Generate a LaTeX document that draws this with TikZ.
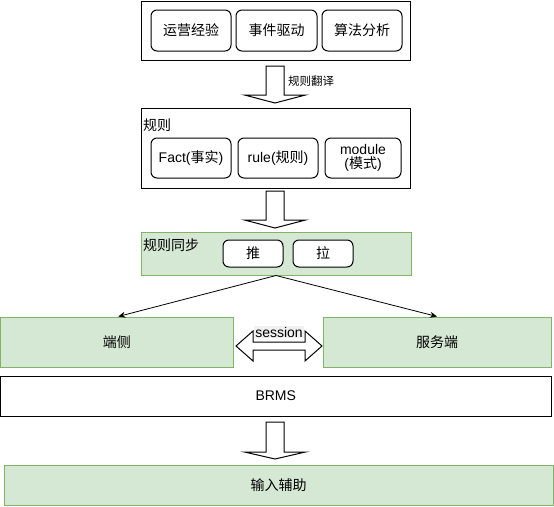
\documentclass[tikz,border=0pt]{standalone}
\usepackage{fontspec}
\setmainfont{Liberation Sans}
\newfontfamily\cjk{Noto Sans CJK SC}
\usetikzlibrary{arrows.meta,calc}
\definecolor{gfill}{HTML}{D5E8D4}
\definecolor{gline}{HTML}{82B366}
\definecolor{lblbg}{HTML}{F0F0F0}
\tikzset{
  basebox/.style={draw=black, line width=1pt, inner sep=0pt, font=\fontsize{14}{16}\selectfont, align=center},
  plainbox/.style={basebox, rectangle, fill=white},
  roundbox/.style={basebox, rounded corners=6pt, fill=white},
  greenbox/.style={basebox, draw=gline, fill=gfill},
  blockarr/.style={draw=black, line width=1pt, fill=white, line join=miter},
  conn/.style={draw=black, line width=0.8pt, -{Stealth[length=7pt,width=6pt]}},
  txt/.style={inner sep=0pt, font=\fontsize{14}{16}\selectfont},
}
% block arrow: centre x, top y, head base y, tip y
\newcommand{\myblockarrow}[4]{%
  \draw[blockarr] (#1-9,#2) -- (#1+9,#2) -- (#1+9,#3) -- (#1+30.5,#3) -- (#1,#4)
    -- (#1-30.5,#3) -- (#1-9,#3) -- cycle;}
\begin{document}
\begin{tikzpicture}[x=1pt,y=-1pt]
\useasboundingbox (0,0) rectangle (554,506);
% top group
\node[plainbox, minimum width=269pt, minimum height=59pt] (top) at (275.5,30.5) {};
\node[roundbox, minimum width=80pt, minimum height=41pt] (yy) at (191,30.5) {\cjk 运营经验};
\node[roundbox, minimum width=81pt, minimum height=41pt] (sj) at (276.5,30.5) {\cjk 事件驱动};
\node[roundbox, minimum width=80pt, minimum height=41pt] (sf) at (362,30.5) {\cjk 算法分析};
% arrow 1
\myblockarrow{275}{66}{95}{103}
\node[inner sep=0pt, anchor=west, font=\fontsize{11.5}{13}\selectfont\cjk] (fy) at (288,81) {规则翻译};
% rules
\node[plainbox, minimum width=269pt, minimum height=80pt] (rules) at (275.5,148) {};
\node[txt, anchor=west] (rulesl) at (143,125) {\cjk 规则};
\node[roundbox, minimum width=80pt, minimum height=40pt] (fact) at (191,158) {Fact({\cjk 事实})};
\node[roundbox, minimum width=80pt, minimum height=40pt] (rule) at (278,158) {rule({\cjk 规则})};
\node[roundbox, minimum width=76pt, minimum height=40pt] (module) at (363,158) {module\\[-2pt]({\cjk 模式})};
% arrow 2
\myblockarrow{275}{191}{220}{228}
% sync
\node[greenbox, minimum width=270pt, minimum height=43pt] (sync) at (276,253.5) {};
\node[txt, anchor=west] (syncl) at (143,245) {\cjk 规则同步};
\node[roundbox, minimum width=60pt, minimum height=27pt] (tui) at (253,253.5) {\cjk 推};
\node[roundbox, minimum width=60pt, minimum height=27pt] (la) at (323,253.5) {\cjk 拉};
% ends
\node[greenbox, minimum width=232.5pt, minimum height=50pt] (duan) at (116.75,342) {\cjk 端侧};
\node[greenbox, minimum width=228pt, minimum height=50pt] (fwd) at (437,342) {\cjk 服务端};
\draw[conn] (sync.south) -- ($(duan.north)+(1.5,0)$);
\draw[conn] (sync.south) -- (fwd.north);
% session double arrow
\coordinate (sl) at (236,346);
\coordinate (sr) at (322,346);
\draw[blockarr] (sl) -- ++(17,-15) -- ++(0,11) -- ++(52,0) -- ++(0,-11) -- (sr)
  -- ++(-17,15) -- ++(0,-11) -- ++(-52,0) -- ++(0,11) -- cycle;
\node[txt, fill=lblbg, inner xsep=1pt, inner ysep=1pt] (sess) at (279,332) {session};
% BRMS
\node[plainbox, minimum width=550.5pt, minimum height=40pt] (brms) at (275.75,396) {BRMS};
% arrow 3
\myblockarrow{275}{422}{452}{459}
% input
\node[greenbox, minimum width=549pt, minimum height=40pt] (input) at (278.5,485) {\cjk 输入辅助};
\end{tikzpicture}
\end{document}
